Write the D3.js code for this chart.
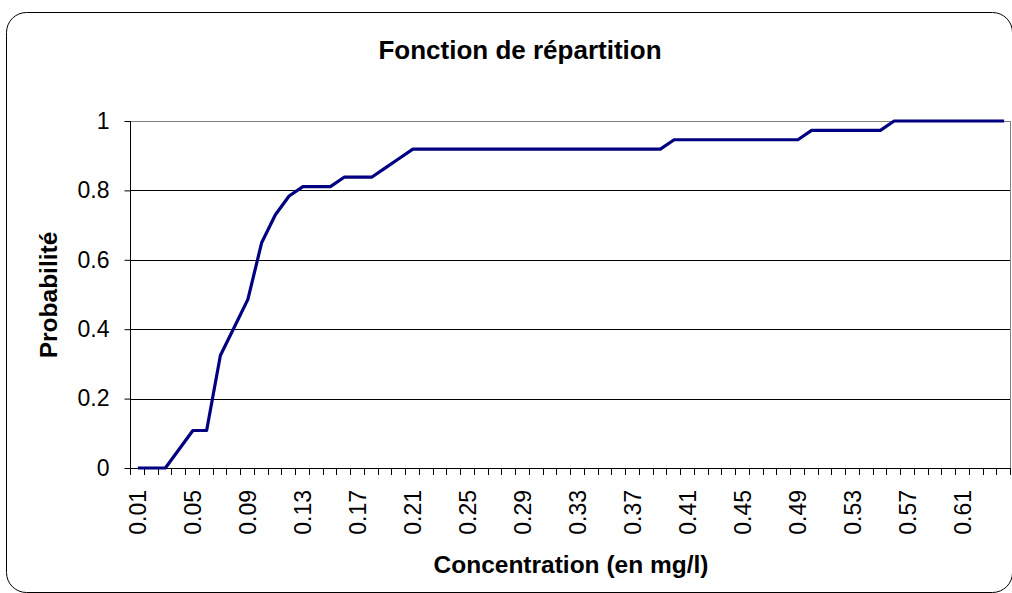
<!DOCTYPE html>
<html>
<head>
<meta charset="utf-8">
<script src="https://cdn.jsdelivr.net/npm/d3@7"></script>
<style>
  body { margin: 0; background: #fff; }
  svg { display: block; font-family: "Liberation Sans", Arial, sans-serif; }
</style>
</head>
<body>
<div id="chart"></div>
<script>
const categories = [
  "0.01", "0.02", "0.03", "0.04", "0.05", "0.06", "0.07", "0.08", "0.09", "0.1",
  "0.11", "0.12", "0.13", "0.14", "0.15", "0.16", "0.17", "0.18", "0.19", "0.2",
  "0.21", "0.22", "0.23", "0.24", "0.25", "0.26", "0.27", "0.28", "0.29", "0.3",
  "0.31", "0.32", "0.33", "0.34", "0.35", "0.36", "0.37", "0.38", "0.39", "0.4",
  "0.41", "0.42", "0.43", "0.44", "0.45", "0.46", "0.47", "0.48", "0.49", "0.5",
  "0.51", "0.52", "0.53", "0.54", "0.55", "0.56", "0.57", "0.58", "0.59", "0.6",
  "0.61", "0.62", "0.63", "0.64"
];

// probabilité cumulée
const probabilite = [
  0, 0, 0, 0.054, 0.108, 0.108, 0.324, 0.405, 0.486, 0.649,
  0.730, 0.784, 0.811, 0.811, 0.811, 0.838, 0.838, 0.838, 0.865, 0.892,
  0.919, 0.919, 0.919, 0.919, 0.919, 0.919, 0.919, 0.919, 0.919, 0.919,
  0.919, 0.919, 0.919, 0.919, 0.919, 0.919, 0.919, 0.919, 0.919, 0.946,
  0.946, 0.946, 0.946, 0.946, 0.946, 0.946, 0.946, 0.946, 0.946, 0.973,
  0.973, 0.973, 0.973, 0.973, 0.973, 1, 1, 1, 1, 1,
  1, 1, 1, 1
];

const xTickLabels = [
  "0.01", "0.05", "0.09", "0.13", "0.17", "0.21", "0.25", "0.29",
  "0.33", "0.37", "0.41", "0.45", "0.49", "0.53", "0.57", "0.61"
];
const yTicks = [0, 0.2, 0.4, 0.6, 0.8, 1];

const width = 1012;
const height = 593;
const plotLeft = 131, plotRight = 1011, plotTop = 121, plotBottom = 468;

const data = categories.map((c, i) => ({ cat: c, value: probabilite[i] }));

const svg = d3
  .select("#chart")
  .append("svg")
  .attr("width", width)
  .attr("height", height);

/* cadre arrondi */
svg
  .append("rect")
  .attr("x", 6.5)
  .attr("y", 12.5)
  .attr("width", 1006)
  .attr("height", 580)
  .attr("rx", 20)
  .attr("fill", "#fff")
  .attr("stroke", "#000")
  .attr("stroke-width", 1);

const x = d3.scaleBand().domain(categories).range([plotLeft, plotRight]);
const y = d3.scaleLinear().domain([0, 1]).range([plotBottom, plotTop]);

/* grille */
svg
  .append("g")
  .selectAll("line")
  .data(yTicks.filter((d) => d > 0))
  .enter()
  .append("line")
  .attr("x1", plotLeft)
  .attr("x2", plotRight)
  .attr("y1", (d) => Math.round(y(d)) + 0.5)
  .attr("y2", (d) => Math.round(y(d)) + 0.5)
  .attr("stroke", (d) => (d === 1 ? "#808080" : "#000"))
  .attr("stroke-width", 1);

/* bord droit de la zone de tracé */
svg
  .append("line")
  .attr("x1", plotRight - 0.5)
  .attr("x2", plotRight - 0.5)
  .attr("y1", plotTop)
  .attr("y2", plotBottom)
  .attr("stroke", "#808080");

/* axe X : graduations aux limites des catégories */
const bounds = categories.map((c) => x(c)).concat([x.range()[1]]);
svg
  .append("g")
  .selectAll("line")
  .data(bounds)
  .enter()
  .append("line")
  .attr("x1", (d) => Math.round(d) - 0.5)
  .attr("x2", (d) => Math.round(d) - 0.5)
  .attr("y1", plotBottom)
  .attr("y2", plotBottom + 7)
  .attr("stroke", "#000");

svg
  .append("line")
  .attr("x1", plotLeft)
  .attr("x2", plotRight)
  .attr("y1", plotBottom + 0.5)
  .attr("y2", plotBottom + 0.5)
  .attr("stroke", "#000");

const xAxis = d3.axisBottom(x).tickValues(xTickLabels).tickSize(0);
const gx = svg
  .append("g")
  .attr("transform", `translate(0, ${plotBottom})`)
  .call(xAxis);
gx.select(".domain").remove();
gx.selectAll("text")
  .attr("font-size", 23)
  .attr("fill", "#000")
  .attr("text-anchor", "end")
  .attr("transform", "rotate(-90)")
  .attr("x", -22)
  .attr("y", 0)
  .attr("dy", "0.36em");

/* axe Y */
const yAxis = d3
  .axisLeft(y)
  .tickValues(yTicks)
  .tickSize(6)
  .tickPadding(15)
  .tickFormat((d) => String(d));
const gy = svg
  .append("g")
  .attr("transform", `translate(${plotLeft - 0.5}, 0)`)
  .call(yAxis);
gy.select(".domain").attr("stroke", "#000").attr("d", `M0,${plotTop}V${plotBottom}`);
gy.selectAll(".tick line").attr("stroke", "#000");
gy.selectAll(".tick text").attr("font-size", 23).attr("fill", "#000");

/* courbe */
const line = d3
  .line()
  .x((d) => x(d.cat) + x.bandwidth() / 2)
  .y((d) => y(d.value));

svg
  .append("path")
  .datum(data)
  .attr("d", line)
  .attr("fill", "none")
  .attr("stroke", "#000080")
  .attr("stroke-width", 3.2)
  .attr("stroke-linejoin", "round");

/* titres */
svg
  .append("text")
  .attr("x", 520)
  .attr("y", 59)
  .attr("text-anchor", "middle")
  .attr("font-size", 26)
  .attr("font-weight", "bold")
  .text("Fonction de répartition");

svg
  .append("text")
  .attr("x", 571)
  .attr("y", 573)
  .attr("text-anchor", "middle")
  .attr("font-size", 24.5)
  .attr("font-weight", "bold")
  .text("Concentration (en mg/l)");

svg
  .append("text")
  .attr("transform", "translate(57, 295) rotate(-90)")
  .attr("text-anchor", "middle")
  .attr("font-size", 24.5)
  .attr("font-weight", "bold")
  .text("Probabilité");
</script>
</body>
</html>
